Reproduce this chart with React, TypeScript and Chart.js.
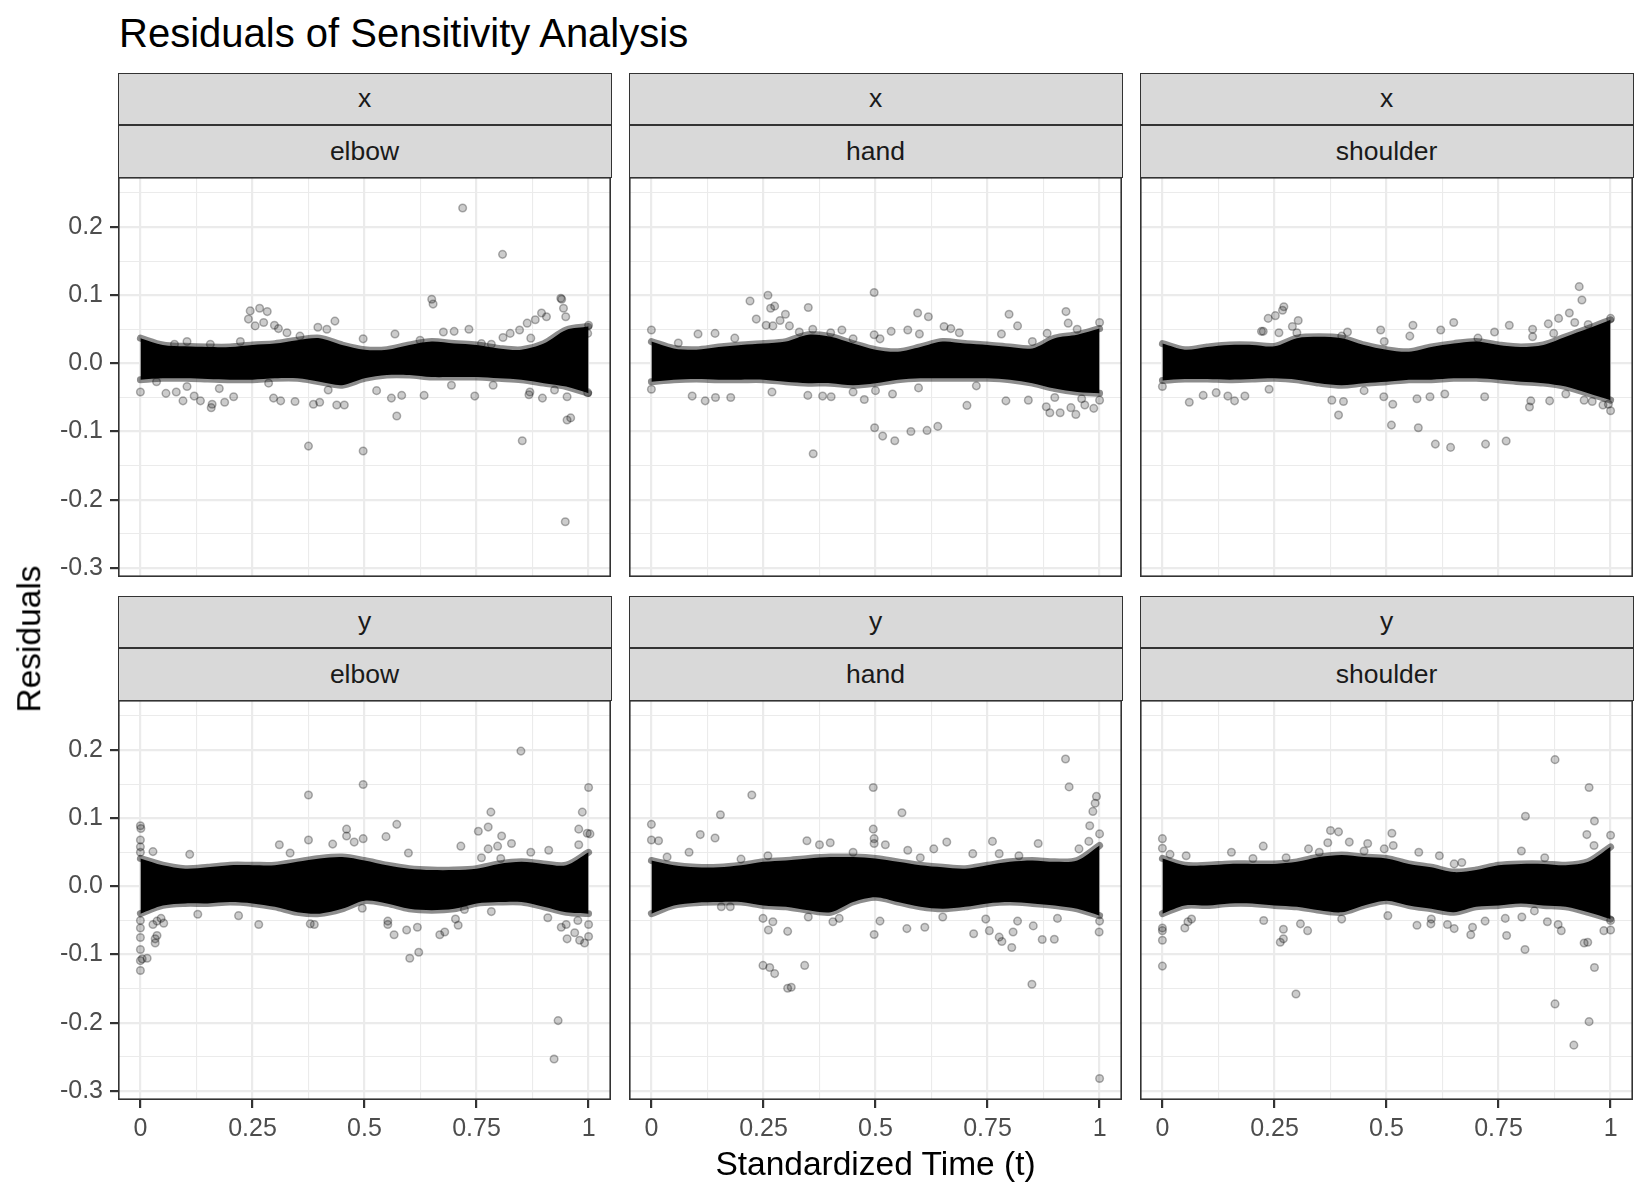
import React, { useEffect, useRef } from 'react';
import { Chart, registerables } from 'chart.js';

Chart.register(...registerables);

const FONT = '"Liberation Sans", Arial, Helvetica, sans-serif';

// ---- data -------------------------------------------------------------
const bandT = [0, 0.05, 0.1, 0.15, 0.2, 0.25, 0.3, 0.35, 0.4, 0.45, 0.5, 0.55, 0.6, 0.65, 0.7, 0.75, 0.8, 0.85, 0.9, 0.95, 1];

const xElbowUpper = [0.037, 0.027, 0.025, 0.024, 0.024, 0.027, 0.029, 0.034, 0.037, 0.027, 0.02, 0.02, 0.027, 0.032, 0.029, 0.027, 0.022, 0.02, 0.029, 0.049, 0.054];
const xElbowLower = [-0.024, -0.022, -0.022, -0.023, -0.024, -0.024, -0.022, -0.022, -0.027, -0.032, -0.022, -0.017, -0.017, -0.02, -0.02, -0.02, -0.022, -0.024, -0.029, -0.034, -0.044];
const xElbowPoints: [number, number][] = [
  [0.719, 0.228], [0.808, 0.16], [0.65, 0.094], [0.653, 0.087], [0.938, 0.0955], [0.94, 0.094], [0.944, 0.081], [0.949, 0.0685],
  [0.895, 0.074], [0.906, 0.0685], [0.881, 0.064], [0.863, 0.059], [0.846, 0.049], [0.825, 0.044], [0.809, 0.038], [0.871, 0.037],
  [0.733, 0.05], [0.7, 0.047], [0.676, 0.046], [0.568, 0.043], [0.245, 0.077], [0.266, 0.081], [0.283, 0.076], [0.241, 0.065],
  [0.256, 0.055], [0.275, 0.06], [0.299, 0.056], [0.308, 0.051], [0.327, 0.045], [0.434, 0.062], [0.396, 0.053], [0.416, 0.05],
  [0.497, 0.036], [1.0, 0.056], [0.998, 0.044], [0.104, 0.032], [0.076, 0.028], [0.156, 0.028], [0.223, 0.032], [0.356, 0.04],
  [0.624, 0.034], [0.761, 0.029], [0.783, 0.028],
  [0.948, -0.2325], [0.852, -0.1136], [0.497, -0.1287], [0.375, -0.1214], [0.572, -0.0773], [0.952, -0.083], [0.96, -0.08],
  [0.897, -0.051], [0.746, -0.048], [0.633, -0.047], [0.583, -0.047], [0.56, -0.051], [0.438, -0.061], [0.455, -0.061],
  [0.386, -0.06], [0.4, -0.057], [0.345, -0.056], [0.297, -0.051], [0.313, -0.055], [0.158, -0.065], [0.16, -0.06],
  [0.188, -0.057], [0.208, -0.049], [0.134, -0.055], [0.12, -0.048], [0.095, -0.055], [0.057, -0.044], [0.08, -0.042],
  [0.0, -0.042], [0.176, -0.037], [0.867, -0.046], [0.952, -0.049], [0.998, -0.043], [0.036, -0.027], [0.104, -0.034],
  [0.286, -0.029], [0.419, -0.039], [0.527, -0.04], [0.694, -0.032], [0.787, -0.032], [0.869, -0.042], [0.924, -0.039],
];

const xHandUpper = [0.032, 0.022, 0.02, 0.024, 0.027, 0.029, 0.032, 0.042, 0.039, 0.029, 0.02, 0.017, 0.024, 0.032, 0.029, 0.027, 0.024, 0.022, 0.037, 0.042, 0.051];
const xHandLower = [-0.027, -0.024, -0.023, -0.024, -0.024, -0.024, -0.027, -0.029, -0.029, -0.032, -0.029, -0.024, -0.022, -0.022, -0.022, -0.022, -0.024, -0.029, -0.037, -0.042, -0.044];
const xHandPoints: [number, number][] = [
  [0.497, 0.104], [0.26, 0.1], [0.22, 0.0915], [0.266, 0.081], [0.275, 0.084], [0.35, 0.082], [0.234, 0.065], [0.299, 0.072],
  [0.287, 0.063], [0.256, 0.056], [0.271, 0.055], [0.308, 0.055], [0.594, 0.074], [0.618, 0.0685], [0.798, 0.072], [0.817, 0.055],
  [0.925, 0.076], [0.93, 0.059], [1.0, 0.06], [0.883, 0.044], [0.0, 0.049], [0.104, 0.043], [0.142, 0.044], [0.186, 0.037],
  [0.425, 0.049], [0.535, 0.047], [0.572, 0.049], [0.497, 0.042], [0.51, 0.036], [0.653, 0.054], [0.668, 0.051], [0.687, 0.045],
  [0.781, 0.043], [0.598, 0.043], [0.06, 0.03], [0.33, 0.046], [0.36, 0.05], [0.4, 0.045], [0.45, 0.036], [0.85, 0.032], [0.95, 0.05],
  [0.361, -0.1326], [0.498, -0.0945], [0.516, -0.1067], [0.543, -0.1136], [0.579, -0.0999], [0.615, -0.0984], [0.639, -0.0925],
  [0.704, -0.0617], [0.889, -0.0724], [0.912, -0.0724], [0.947, -0.0749], [0.881, -0.0636], [0.936, -0.065], [0.967, -0.061],
  [0.987, -0.066], [1.0, -0.054], [0.791, -0.055], [0.841, -0.054], [0.12, -0.055], [0.143, -0.05], [0.177, -0.05],
  [0.091, -0.048], [0.0, -0.038], [0.269, -0.042], [0.349, -0.047], [0.382, -0.048], [0.401, -0.049], [0.475, -0.053],
  [0.538, -0.045], [0.596, -0.036], [0.725, -0.033], [0.45, -0.042], [0.5, -0.04], [0.9, -0.05], [0.96, -0.052],
];

const xShoulderUpper = [0.029, 0.02, 0.024, 0.027, 0.027, 0.025, 0.037, 0.039, 0.037, 0.027, 0.02, 0.017, 0.024, 0.029, 0.032, 0.027, 0.024, 0.027, 0.039, 0.051, 0.064];
const xShoulderLower = [-0.025, -0.023, -0.023, -0.024, -0.023, -0.022, -0.024, -0.029, -0.032, -0.029, -0.027, -0.024, -0.024, -0.022, -0.022, -0.024, -0.027, -0.029, -0.034, -0.044, -0.054];
const xShoulderPoints: [number, number][] = [
  [0.93, 0.1126], [0.936, 0.093], [0.908, 0.074], [0.271, 0.083], [0.268, 0.078], [0.252, 0.07], [0.236, 0.066], [0.303, 0.063],
  [0.221, 0.047], [0.225, 0.047], [0.26, 0.045], [0.29, 0.054], [0.65, 0.06], [0.559, 0.056], [0.487, 0.049], [0.621, 0.049],
  [0.774, 0.056], [0.741, 0.046], [0.826, 0.05], [0.826, 0.039], [0.861, 0.058], [0.884, 0.066], [0.873, 0.044], [1.0, 0.066],
  [0.552, 0.04], [0.495, 0.032], [0.413, 0.046], [0.704, 0.037], [0.3, 0.045], [0.4, 0.04], [0.92, 0.06], [0.95, 0.057],
  [0.609, -0.1185], [0.643, -0.1233], [0.721, -0.1185], [0.767, -0.114], [0.511, -0.0906], [0.571, -0.0945], [0.393, -0.0759],
  [0.378, -0.054], [0.404, -0.056], [0.514, -0.06], [0.568, -0.052], [0.597, -0.049], [0.63, -0.045], [0.719, -0.049],
  [0.819, -0.064], [0.822, -0.055], [0.864, -0.055], [1.0, -0.0695], [0.983, -0.061], [0.995, -0.06], [0.941, -0.054],
  [0.959, -0.056], [0.06, -0.057], [0.161, -0.055], [0.184, -0.048], [0.146, -0.048], [0.12, -0.043], [0.091, -0.047],
  [0.0, -0.034], [0.238, -0.038], [0.494, -0.049], [0.45, -0.04], [0.9, -0.045],
];

const yElbowUpper = [0.041, 0.031, 0.026, 0.028, 0.031, 0.031, 0.031, 0.036, 0.041, 0.043, 0.038, 0.031, 0.026, 0.024, 0.024, 0.026, 0.033, 0.036, 0.033, 0.031, 0.05];
const yElbowLower = [-0.04, -0.028, -0.025, -0.025, -0.023, -0.025, -0.03, -0.038, -0.04, -0.033, -0.021, -0.025, -0.033, -0.035, -0.033, -0.025, -0.023, -0.023, -0.03, -0.038, -0.04];
const yElbowPoints: [number, number][] = [
  [0.849, 0.1985], [0.497, 0.1495], [0.375, 0.134], [1.0, 0.145], [0.782, 0.109], [0.986, 0.109], [0.572, 0.091], [0.754, 0.081],
  [0.776, 0.087], [0.806, 0.074], [0.978, 0.084], [0.997, 0.078], [1.003, 0.077], [0.0, 0.089], [0.001, 0.085], [0.0, 0.068],
  [0.46, 0.084], [0.46, 0.074], [0.477, 0.065], [0.497, 0.07], [0.548, 0.073], [0.375, 0.068], [0.31, 0.061], [0.715, 0.059],
  [0.776, 0.055], [0.797, 0.059], [0.828, 0.063], [0.911, 0.053], [0.978, 0.061], [0.429, 0.062], [0.598, 0.049], [0.11, 0.047],
  [0.028, 0.051], [0.761, 0.042], [0.804, 0.041], [0.871, 0.05], [0.334, 0.049], [0.0, 0.058], [0.0, 0.05],
  [0.923, -0.2534], [0.932, -0.197], [0.601, -0.1054], [0.621, -0.0966], [0.0, -0.1235], [0.0, -0.109], [0.004, -0.1064],
  [0.015, -0.1054], [0.0, -0.0926], [0.033, -0.077], [0.033, -0.083], [0.037, -0.072], [0.0, -0.061], [0.028, -0.056],
  [0.037, -0.051], [0.052, -0.054], [0.046, -0.047], [0.566, -0.071], [0.594, -0.064], [0.618, -0.06], [0.552, -0.051],
  [0.552, -0.056], [0.668, -0.071], [0.679, -0.067], [0.709, -0.057], [0.703, -0.048], [0.909, -0.046], [0.939, -0.06],
  [0.952, -0.077], [0.969, -0.068], [0.98, -0.079], [0.991, -0.083], [1.0, -0.0735], [1.0, -0.056], [0.95, -0.056],
  [0.976, -0.05], [0.264, -0.056], [0.379, -0.055], [0.388, -0.056], [0.128, -0.041], [0.219, -0.043], [0.495, -0.032],
  [0.723, -0.034], [0.783, -0.037], [0.0, -0.05], [0.0, -0.075],
];

const yHandUpper = [0.038, 0.031, 0.028, 0.028, 0.031, 0.036, 0.038, 0.041, 0.043, 0.043, 0.041, 0.036, 0.031, 0.028, 0.026, 0.031, 0.036, 0.038, 0.036, 0.038, 0.06];
const yHandLower = [-0.04, -0.028, -0.024, -0.023, -0.023, -0.028, -0.03, -0.035, -0.038, -0.023, -0.016, -0.023, -0.03, -0.033, -0.03, -0.025, -0.023, -0.025, -0.028, -0.033, -0.043];
const yHandPoints: [number, number][] = [
  [0.924, 0.187], [0.932, 0.146], [0.495, 0.145], [0.993, 0.132], [0.99, 0.122], [0.985, 0.11], [0.224, 0.134], [0.154, 0.105],
  [0.559, 0.108], [0.0, 0.091], [0.0, 0.068], [0.016, 0.067], [0.109, 0.076], [0.142, 0.071], [0.084, 0.05], [0.035, 0.043],
  [0.495, 0.084], [0.497, 0.07], [0.497, 0.063], [0.522, 0.061], [0.978, 0.089], [1.0, 0.077], [0.761, 0.066], [0.863, 0.063],
  [0.659, 0.065], [0.63, 0.055], [0.347, 0.067], [0.375, 0.061], [0.399, 0.064], [0.572, 0.053], [0.717, 0.048], [0.776, 0.048],
  [0.976, 0.066], [0.954, 0.055], [0.2, 0.04], [0.26, 0.045], [0.45, 0.05], [0.6, 0.042], [0.82, 0.045],
  [1.0, -0.282], [0.849, -0.1436], [0.304, -0.1495], [0.312, -0.148], [0.249, -0.116], [0.264, -0.119], [0.275, -0.128],
  [0.342, -0.116], [0.497, -0.0706], [0.719, -0.0696], [0.754, -0.065], [0.776, -0.0745], [0.782, -0.081], [0.804, -0.0897],
  [0.807, -0.067], [0.872, -0.078], [0.899, -0.0775], [0.852, -0.058], [0.999, -0.067], [1.0, -0.051], [0.261, -0.064],
  [0.304, -0.066], [0.271, -0.052], [0.249, -0.047], [0.405, -0.052], [0.419, -0.047], [0.51, -0.051], [0.57, -0.062],
  [0.61, -0.06], [0.817, -0.051], [0.906, -0.047], [0.746, -0.048], [0.156, -0.03], [0.176, -0.03], [0.35, -0.045], [0.65, -0.045],
];

const yShoulderUpper = [0.041, 0.031, 0.031, 0.033, 0.033, 0.033, 0.036, 0.043, 0.046, 0.043, 0.041, 0.033, 0.028, 0.021, 0.024, 0.031, 0.033, 0.033, 0.031, 0.036, 0.058];
const yShoulderLower = [-0.04, -0.028, -0.028, -0.025, -0.025, -0.028, -0.03, -0.035, -0.038, -0.028, -0.021, -0.028, -0.033, -0.038, -0.03, -0.028, -0.025, -0.028, -0.03, -0.038, -0.048];
const yShoulderPoints: [number, number][] = [
  [0.876, 0.186], [0.952, 0.145], [0.81, 0.103], [0.964, 0.096], [0.947, 0.076], [1.0, 0.075], [0.512, 0.078], [0.515, 0.06],
  [0.375, 0.082], [0.393, 0.08], [0.369, 0.064], [0.417, 0.065], [0.458, 0.063], [0.0, 0.07], [0.0, 0.056], [0.017, 0.047],
  [0.053, 0.045], [0.154, 0.05], [0.225, 0.059], [0.276, 0.042], [0.202, 0.041], [0.326, 0.055], [0.572, 0.05], [0.618, 0.045],
  [0.651, 0.033], [0.668, 0.035], [0.801, 0.052], [0.853, 0.042], [0.963, 0.06], [0.495, 0.055], [0.35, 0.05], [0.45, 0.052],
  [0.918, -0.233], [0.952, -0.1985], [0.876, -0.1725], [0.964, -0.119], [0.298, -0.158], [0.0, -0.117], [0.809, -0.0926],
  [0.768, -0.072], [0.941, -0.083], [0.949, -0.082], [0.89, -0.065], [0.883, -0.056], [0.859, -0.052], [0.985, -0.065],
  [1.0, -0.064], [0.0, -0.079], [0.0, -0.065], [0.0, -0.061], [0.05, -0.061], [0.057, -0.052], [0.065, -0.048],
  [0.263, -0.082], [0.27, -0.077], [0.27, -0.063], [0.324, -0.065], [0.308, -0.055], [0.226, -0.05], [0.503, -0.043],
  [0.568, -0.057], [0.599, -0.055], [0.636, -0.056], [0.651, -0.062], [0.688, -0.071], [0.692, -0.06], [0.72, -0.051],
  [0.765, -0.047], [0.802, -0.045], [0.83, -0.036], [1.0, -0.05], [0.4, -0.048], [0.6, -0.048],
];

const xTickValues = [0, 0.125, 0.25, 0.375, 0.5, 0.625, 0.75, 0.875, 1];
const xTickLabels = ['0', '', '0.25', '', '0.5', '', '0.75', '', '1'];
const yTickValues = [-0.3, -0.25, -0.2, -0.15, -0.1, -0.05, 0, 0.05, 0.1, 0.15, 0.2, 0.25];
const yTickLabels = ['-0.3', '', '-0.2', '', '-0.1', '', '0.0', '', '0.1', '', '0.2', ''];

const rowStrips = ['x', 'y'];
const colStrips = ['elbow', 'hand', 'shoulder'];

const panels = [
  { row: 0, col: 0, upper: xElbowUpper, lower: xElbowLower, points: xElbowPoints },
  { row: 0, col: 1, upper: xHandUpper, lower: xHandLower, points: xHandPoints },
  { row: 0, col: 2, upper: xShoulderUpper, lower: xShoulderLower, points: xShoulderPoints },
  { row: 1, col: 0, upper: yElbowUpper, lower: yElbowLower, points: yElbowPoints },
  { row: 1, col: 1, upper: yHandUpper, lower: yHandLower, points: yHandPoints },
  { row: 1, col: 2, upper: yShoulderUpper, lower: yShoulderLower, points: yShoulderPoints },
];

// ---- layout ------------------------------------------------------------
const PANEL_LEFTS = [118, 629, 1140];
const PANEL_W = 493;
const PANEL_TOPS = [177, 700];
const PANEL_H = 400;
const Y_AXIS_W = 118;
const X_AXIS_H = 62;
const STRIP_H1 = 52;
const STRIP_H2 = 53;

const borderPlugin = {
  id: 'panelBorder',
  afterDraw(chart: any) {
    const { ctx, chartArea: a } = chart;
    ctx.save();
    ctx.strokeStyle = '#333333';
    ctx.lineWidth = 1.6;
    ctx.strokeRect(a.left + 0.8, a.top + 0.8, a.right - a.left - 1.6, a.bottom - a.top - 1.6);
    ctx.restore();
  },
};

function Panel({ row, col, upper, lower, points }: any) {
  const ref = useRef<HTMLCanvasElement | null>(null);
  const showY = col === 0;
  const showX = row === 1;
  const left = showY ? PANEL_LEFTS[col] - Y_AXIS_W : PANEL_LEFTS[col];
  const width = PANEL_W + (showY ? Y_AXIS_W : 0);
  const height = PANEL_H + (showX ? X_AXIS_H : 0);
  const top = PANEL_TOPS[row];

  useEffect(() => {
    if (!ref.current) return;
    const chart = new Chart(ref.current, {
      type: 'scatter',
      data: {
        datasets: [
          {
            type: 'scatter',
            data: points.map(([t, r]: [number, number]) => ({ x: t, y: r })),
            pointRadius: 3.8,
            pointBorderWidth: 1.5,
            backgroundColor: 'rgba(0,0,0,0.2)',
            borderColor: 'rgba(0,0,0,0.3)',
            order: 1,
          } as any,
          {
            type: 'line',
            data: bandT.map((t, i) => ({ x: t, y: upper[i] })),
            fill: '+1',
            backgroundColor: '#000000',
            borderColor: 'rgba(0,0,0,0.45)',
            borderWidth: 7,
            borderCapStyle: 'round',
            pointRadius: 0,
            tension: 0.3,
            order: 2,
          } as any,
          {
            type: 'line',
            data: bandT.map((t, i) => ({ x: t, y: lower[i] })),
            fill: false,
            borderColor: 'rgba(0,0,0,0.45)',
            borderWidth: 7,
            borderCapStyle: 'round',
            pointRadius: 0,
            tension: 0.3,
            order: 3,
          } as any,
        ],
      },
      options: {
        responsive: false,
        animation: false,
        events: [],
        layout: { padding: 0, autoPadding: false },
        plugins: { legend: { display: false }, tooltip: { enabled: false }, title: { display: false } },
        scales: {
          x: {
            type: 'linear',
            min: -0.05,
            max: 1.05,
            afterBuildTicks: (s: any) => {
              s.ticks = xTickValues.map((v) => ({ value: v }));
            },
            afterFit: (s: any) => {
              s.height = showX ? X_AXIS_H : 0;
              s.paddingLeft = 0;
              s.paddingRight = 0;
            },
            ticks: {
              display: showX,
              autoSkip: false,
              maxRotation: 0,
              padding: 6,
              color: '#4D4D4D',
              font: { family: FONT, size: 25 },
              callback: (_v: any, i: number) => xTickLabels[i],
            },
            grid: {
              color: '#EBEBEB',
              lineWidth: (c: any) => (c.index % 2 === 0 ? 2.2 : 1.1),
              drawTicks: showX,
              tickLength: 8,
              tickWidth: 2.2,
              tickColor: (c: any) => (c.index % 2 === 0 ? '#333333' : 'rgba(0,0,0,0)'),
            },
            border: { display: false },
          },
          y: {
            type: 'linear',
            min: -0.3135,
            max: 0.2735,
            afterBuildTicks: (s: any) => {
              s.ticks = yTickValues.map((v) => ({ value: v }));
            },
            afterFit: (s: any) => {
              s.width = showY ? Y_AXIS_W : 0;
              s.paddingTop = 0;
              s.paddingBottom = 0;
            },
            ticks: {
              display: showY,
              autoSkip: false,
              padding: 7,
              color: '#4D4D4D',
              font: { family: FONT, size: 25 },
              callback: (_v: any, i: number) => yTickLabels[i],
            },
            grid: {
              color: '#EBEBEB',
              lineWidth: (c: any) => (c.index % 2 === 0 ? 2.2 : 1.1),
              drawTicks: showY,
              tickLength: 8,
              tickWidth: 2.2,
              tickColor: (c: any) => (c.index % 2 === 0 ? '#333333' : 'rgba(0,0,0,0)'),
            },
            border: { display: false },
          },
        },
      } as any,
      plugins: [borderPlugin],
    });
    return () => chart.destroy();
  }, []);

  return (
    <canvas
      ref={ref}
      width={width}
      height={height}
      style={{ position: 'absolute', left, top, width, height }}
    />
  );
}

function Strip({ left, top, height, label }: any) {
  return (
    <div
      style={{
        position: 'absolute',
        left: left - 0.5,
        top,
        width: PANEL_W + 1,
        height,
        boxSizing: 'border-box',
        border: '1.6px solid #333333',
        background: '#D9D9D9',
        display: 'flex',
        alignItems: 'center',
        justifyContent: 'center',
        fontFamily: FONT,
        fontSize: 26.5,
        color: '#1A1A1A',
        lineHeight: 1,
      }}
    >
      {label}
    </div>
  );
}

export default function App() {
  const strips: any[] = [];
  rowStrips.forEach((rs, r) => {
    colStrips.forEach((cs, c) => {
      const pTop = PANEL_TOPS[r];
      strips.push(
        <Strip key={`s1-${r}-${c}`} left={PANEL_LEFTS[c]} top={pTop - STRIP_H2 - STRIP_H1 + 0.5} height={STRIP_H1} label={rs} />
      );
      strips.push(
        <Strip key={`s2-${r}-${c}`} left={PANEL_LEFTS[c]} top={pTop - STRIP_H2 + 1} height={STRIP_H2} label={cs} />
      );
    });
  });

  return (
    <div
      style={{
        position: 'absolute',
        left: 0,
        top: 0,
        width: 1650,
        height: 1200,
        background: '#FFFFFF',
        overflow: 'hidden',
        fontFamily: FONT,
      }}
    >
      <div
        style={{
          position: 'absolute',
          left: 119,
          top: 13,
          fontSize: 40,
          lineHeight: 1,
          color: '#000000',
          whiteSpace: 'nowrap',
        }}
      >
        Residuals of Sensitivity Analysis
      </div>
      {panels.map((p) => (
        <Panel key={`${p.row}-${p.col}`} {...p} />
      ))}
      {strips}
      <div
        style={{
          position: 'absolute',
          left: 28.5,
          top: 638.5,
          transform: 'translate(-50%, -50%) rotate(-90deg)',
          fontSize: 33.5,
          lineHeight: 1,
          color: '#000000',
          whiteSpace: 'nowrap',
        }}
      >
        Residuals
      </div>
      <div
        style={{
          position: 'absolute',
          left: 875.5,
          top: 1164,
          transform: 'translate(-50%, -50%)',
          fontSize: 33.5,
          lineHeight: 1,
          color: '#000000',
          whiteSpace: 'nowrap',
        }}
      >
        Standardized Time (t)
      </div>
    </div>
  );
}
